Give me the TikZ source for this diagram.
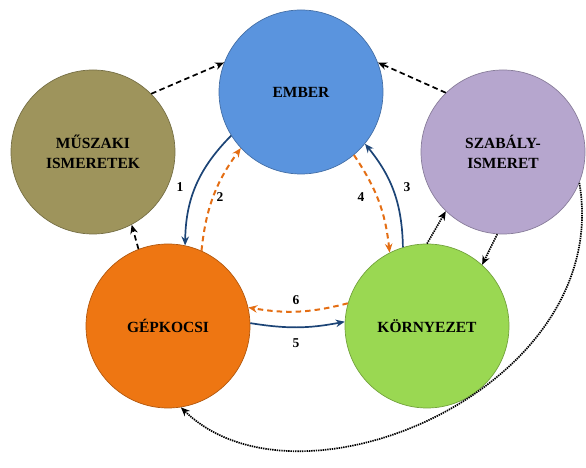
\documentclass[tikz,border=0pt]{standalone}
\usepackage{fontspec}
\setmainfont{Liberation Serif}
\usetikzlibrary{arrows.meta}

\definecolor{emberblue}{RGB}{90,148,222}
\definecolor{olive}{RGB}{158,148,92}
\definecolor{lilac}{RGB}{182,166,206}
\definecolor{carorange}{RGB}{238,118,18}
\definecolor{envgreen}{RGB}{154,216,82}
\definecolor{navy}{RGB}{28,68,118}
\definecolor{dashorange}{RGB}{228,110,20}

\tikzset{
  bubble/.style={circle, minimum size=164pt, inner sep=0pt, align=center,
    font=\fontsize{15.5}{20}\selectfont\bfseries, text=black,
    fill=#1, draw=#1!75!black, line width=0.7pt},
  tipS/.style={-{Stealth[length=9pt,width=7.5pt]}},
  flow/.style={tipS, draw=navy, line width=1.7pt},
  feedback/.style={tipS, draw=dashorange, line width=2pt, dash pattern=on 5.5pt off 4pt},
  influence/.style={tipS, draw=black, line width=1.7pt, dash pattern=on 5.5pt off 3.5pt},
  dotlink/.style={tipS, draw=black, line width=1.7pt, dash pattern=on 1.4pt off 0.9pt},
  num/.style={font=\fontsize{13.5}{13.5}\selectfont\bfseries, inner sep=0pt}
}

\begin{document}
\begin{tikzpicture}[x=1pt,y=1pt]
  \useasboundingbox (0,0) rectangle (586,468);

  % the five topics
  \node[bubble=emberblue] (ember) at (301,376) {EMBER};
  \node[bubble=olive]     (musz)  at (93,316)  {MŰSZAKI\\ISMERETEK};
  \node[bubble=lilac]     (szab)  at (503,316) {SZABÁLY-\\ISMERET};
  \node[bubble=carorange] (gep)   at (168,142) {GÉPKOCSI};
  \node[bubble=envgreen]  (korny) at (427,142) {KÖRNYEZET};

  % numbered relations of the inner triangle
  \draw[flow]     (ember.212) to[bend right=22] (gep.78);
  \draw[feedback] (gep.66)    to[bend left=15]  (ember.223);
  \draw[flow]     (korny.107) to[bend right=19] (ember.-39);
  \draw[feedback] (ember.-50) to[bend left=14]  (korny.117);
  \draw[flow]     (gep.2)     to[bend right=10] (korny.177);
  \draw[feedback] (korny.164) to[bend left=12]  (gep.13);

  \node[num] (n1) at (180,281) {1};
  \node[num] (n2) at (220,271) {2};
  \node[num] (n3) at (407,281) {3};
  \node[num] (n4) at (361,271) {4};
  \node[num] (n5) at (296,125) {5};
  \node[num] (n6) at (296,168) {6};

  % knowledge feeding the driver
  \draw[influence] (musz.45)  -- (ember.159);
  \draw[influence] (szab.134) -- (ember.21);
  \draw[influence] (gep.111)  -- (musz.-62);

  % rules and environment
  \draw[dotlink] (korny.90) -- (szab.226);
  \draw[dotlink] (szab.266) -- (korny.48);
  \draw[dotlink] (szab.-22) .. controls +(35,-205) and +(118,-115) .. (gep.-81);
\end{tikzpicture}
\end{document}
